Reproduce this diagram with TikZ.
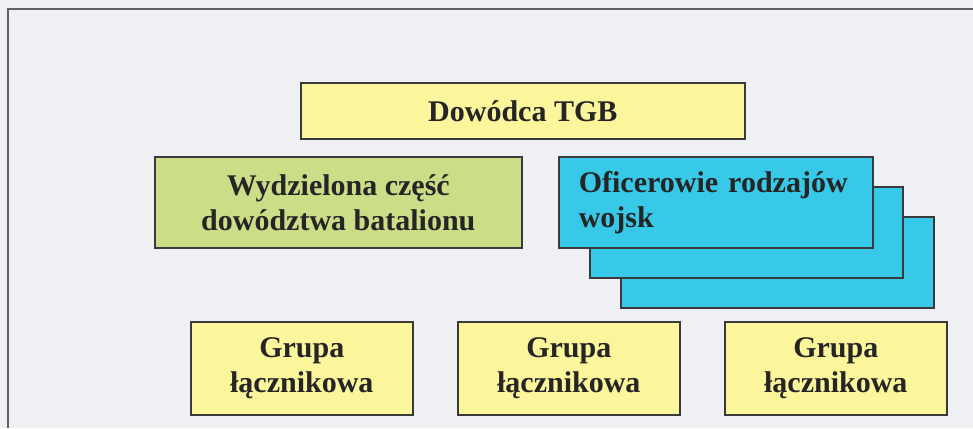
\documentclass[tikz,border=0pt]{standalone}
\usepackage{fontspec}
\setmainfont{Liberation Serif}
\definecolor{bgc}{HTML}{EFF0F3}
\definecolor{yel}{HTML}{FBF59C}
\definecolor{grn}{HTML}{CCDD88}
\definecolor{cyn}{HTML}{38C8E8}
\definecolor{txt}{HTML}{252525}
\definecolor{edge}{HTML}{3A3A3A}
\tikzset{
  box/.style={draw=edge, line width=1.6pt, anchor=north west, inner sep=0pt,
    font=\fontsize{30}{35}\selectfont\bfseries, text=txt, align=center},
  frameline/.style={draw=edge!80, line width=1.2pt}
}
\begin{document}
\begin{tikzpicture}[x=1pt,y=-1pt]
\fill[bgc] (0,0) rectangle (973,428);
\useasboundingbox (0,0) rectangle (973,428);
\coordinate (f1) at (8,9);
\coordinate (f2) at (973,9);
\coordinate (f3) at (8,428);
\draw[frameline] (f2) -- (f1) -- (f3);
% top
\node[box, fill=yel, minimum width=444pt, minimum height=56pt] (tgb) at (300,82) {Dowódca TGB};
% green
\node[box, fill=grn, minimum width=367pt, minimum height=91pt] (wyd) at (154,156) {Wydzielona część\\dowództwa batalionu};
% cyan stack
\node[box, fill=cyn, minimum width=313pt, minimum height=91pt] (of3) at (620,216) {};
\node[box, fill=cyn, minimum width=313pt, minimum height=91pt] (of2) at (589,186) {};
\node[box, fill=cyn, text width=274pt, inner xsep=20pt, minimum height=91pt, align=left] (of1) at (558,156) {Oficerowie rodzajów\\wojsk};
% groups
\node[box, fill=yel, minimum width=222pt, minimum height=93pt] (g1) at (190,321) {Grupa\\łącznikowa};
\node[box, fill=yel, minimum width=222pt, minimum height=93pt] (g2) at (457,321) {Grupa\\łącznikowa};
\node[box, fill=yel, minimum width=222pt, minimum height=93pt] (g3) at (724,321) {Grupa\\łącznikowa};
\end{tikzpicture}
\end{document}
